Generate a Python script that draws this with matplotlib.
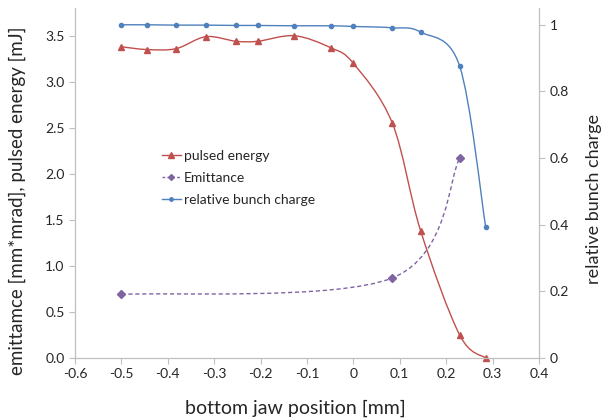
import numpy as np
import matplotlib
matplotlib.use("Agg")
import matplotlib.pyplot as plt
from matplotlib.path import Path
from matplotlib.patches import PathPatch
from matplotlib.lines import Line2D

# ── Data ──────────────────────────────────────────────────────────────────────
jaw_pos = [-0.5, -0.444, -0.382, -0.318, -0.253, -0.206, -0.127, -0.049,
           0.0, 0.084, 0.145, 0.229, 0.285]
pulsed_energy = [3.38, 3.35, 3.36, 3.49, 3.44, 3.44, 3.50, 3.37,
                 3.20, 2.55, 1.38, 0.25, 0.0]
bunch_charge = [1.0, 1.0, 0.999, 0.999, 0.998, 0.998, 0.997, 0.997,
                0.995, 0.991, 0.978, 0.876, 0.394]

emit_pos = [-0.5, 0.084, 0.229]
emittance = [0.69, 0.87, 2.17]

RED, PURPLE, BLUE = "#C0504D", "#8064A2", "#4F81BD"
GRID = "#BFBFBF"
TXT = "#262626"

plt.rcParams["font.family"] = ["Lato", "DejaVu Sans"]


def smooth_path(xs, ys):
    """Excel-like smoothed line: cubic Bezier segments (Catmull-Rom controls)."""
    p = np.column_stack([xs, ys]).astype(float)
    n = len(p)
    verts, codes = [p[0]], [Path.MOVETO]
    for i in range(n - 1):
        p0 = p[i - 1] if i > 0 else p[i]
        p3 = p[i + 2] if i + 2 < n else p[i + 1]
        c1 = p[i] + (p[i + 1] - p0) / 6
        c2 = p[i + 1] - (p3 - p[i]) / 6
        verts += [c1, c2, p[i + 1]]
        codes += [Path.CURVE4] * 3
    return Path(verts, codes)


fig = plt.figure(figsize=(6.01, 4.19), dpi=100)
ax = fig.add_axes([0.1248, 0.1456, 0.772, 0.835])
ax2 = ax.twinx()

# ── Curves ────────────────────────────────────────────────────────────────────
ax.add_patch(PathPatch(smooth_path(jaw_pos, pulsed_energy), fill=False,
                       edgecolor=RED, lw=1.0, zorder=3))
ax.plot(jaw_pos, pulsed_energy, ls="none", marker="^", ms=5, color=RED,
        zorder=4, clip_on=False)

ax.add_patch(PathPatch(smooth_path(emit_pos, emittance), fill=False,
                       edgecolor=PURPLE, lw=1.0, ls=(0, (3, 2)), zorder=3))
ax.plot(emit_pos, emittance, ls="none", marker="D", ms=4, color=PURPLE, zorder=4)

ax2.add_patch(PathPatch(smooth_path(jaw_pos, bunch_charge), fill=False,
                        edgecolor=BLUE, lw=1.0, zorder=3))
ax2.plot(jaw_pos, bunch_charge, ls="none", marker="o", ms=3, color=BLUE, zorder=4)

# ── Axes ──────────────────────────────────────────────────────────────────────
ax.set_xlim(-0.6, 0.4)
ax.set_ylim(0, 3.8)
ax2.set_ylim(0, 1.05)
ax.set_xticks(np.arange(-0.6, 0.41, 0.1))
ax.set_xticklabels(["-0.6", "-0.5", "-0.4", "-0.3", "-0.2", "-0.1",
                    "0", "0.1", "0.2", "0.3", "0.4"])
ax.set_yticks(np.arange(0, 3.51, 0.5))
ax.set_yticklabels([f"{v:.1f}" for v in np.arange(0, 3.51, 0.5)])
ax2.set_yticks([0, 0.2, 0.4, 0.6, 0.8, 1.0])
ax2.set_yticklabels(["0", "0.2", "0.4", "0.6", "0.8", "1"])

for a in (ax, ax2):
    for s in a.spines.values():
        s.set_color(GRID)
        s.set_linewidth(0.8)
    a.spines["top"].set_visible(False)
    a.tick_params(colors=GRID, labelcolor=TXT, labelsize=10, length=4, width=0.8)

ax.set_xlabel("bottom jaw position [mm]", fontsize=14, color=TXT)
ax.xaxis.set_label_coords(0.474, -0.145)
ax.xaxis.label.set_va("center")
ax.set_ylabel("emittamce [mm*mrad], pulsed energy [mJ]", fontsize=13.5, color=TXT)
ax.yaxis.set_label_coords(-0.125, 0.45)
ax.yaxis.label.set_va("center")
ax2.set_ylabel("relative bunch charge", fontsize=13, color=TXT)
ax2.yaxis.set_label_coords(1.118, 0.454)
ax2.yaxis.label.set_va("center")

handles = [
    Line2D([], [], color=RED, lw=1.0, marker="^", ms=4),
    Line2D([], [], color=PURPLE, lw=1.0, ls=(0, (2, 1.5)), marker="D", ms=3),
    Line2D([], [], color=BLUE, lw=1.0, marker="o", ms=2.5),
]
ax2.legend(handles, ["pulsed energy", "Emittance", "relative bunch charge"],
           loc="upper left", bbox_to_anchor=(0.16, 0.63), frameon=False,
           fontsize=10, handlelength=1.4, handletextpad=0.2, labelspacing=0.7,
           labelcolor=TXT)

plt.savefig("out.png", dpi=100)
plt.close()
